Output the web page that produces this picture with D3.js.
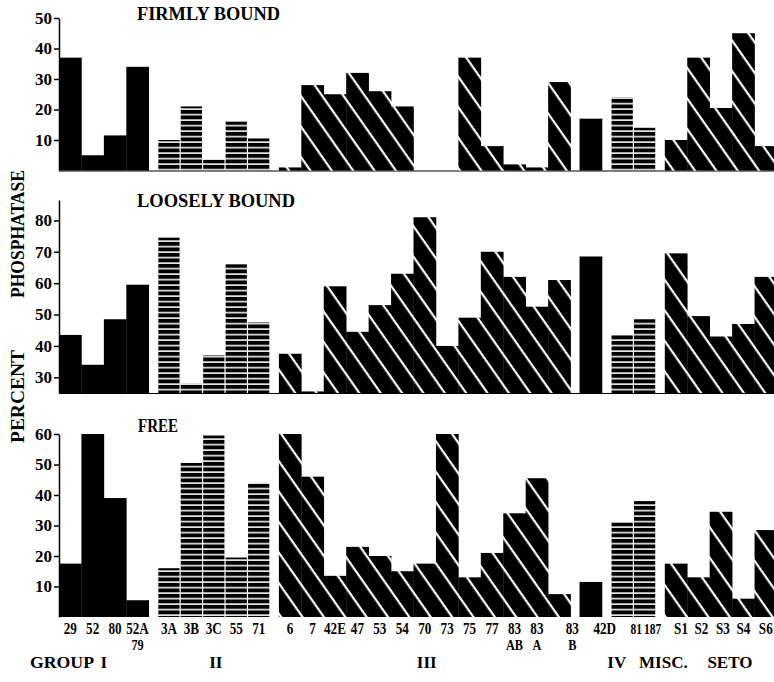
<!DOCTYPE html>
<html>
<head>
<meta charset="utf-8">
<script src="https://cdn.jsdelivr.net/npm/d3@7"></script>
<style>
  html, body { margin: 0; padding: 0; background: #fff; }
  svg text { font-family: "Liberation Serif", "Times New Roman", serif; font-weight: bold; fill: #000; }
</style>
</head>
<body>
<script>
// ---------------- DATA ----------------
const categories = ["29","52","80","52A","3A","3B","3C","55","71",
  "6","7","42E","47","53","54","70","73","75","77","83","83","83",
  "42D","81","187","S1","S2","S3","S4","S6"];
const subLabels = ["","","","79","","","","","",
  "","","","","","","","","","","AB","A","B",
  "","","","","","","",""];
const barGroup = ["I","I","I","I","II","II","II","II","II",
  "III","III","III","III","III","III","III","III","III","III","III","III","III",
  "IV","MISC.","MISC.","SETO","SETO","SETO","SETO","SETO"];
const groupNames = ["I","II","III","IV","MISC.","SETO"];

const firmlyBound = [37,5,11.5,34, 10,21,3.5,16,10.5,
  1,28,25,32,26,21,0,0,37,8,2,1,29,
  17, 24,14, 10,37,20.5,45,8];
const looselyBound = [43.5,34,48.5,59.5, 74.5,28,37,66,47.5,
  37.5,25.5,59,44.5,53,63,81,40,49,70,62,52.5,61,
  68.5, 43.5,48.5, 69.5,49.5,43,47,62];
const freeEnzyme = [17.5,60,39,5.5, 16,50.5,59.5,19.5,44,
  60,46,13.5,23,20,15,17.5,60,13,21,34,45.5,7.5,
  11.5, 31,38, 17.5,13,34.5,6,28.5];

const firmlyTicks = [10,20,30,40,50];
const looselyTicks = [30,40,50,60,70,80];
const freeTicks = [10,20,30,40,50,60];

// group -> fill style
const groupFill = {"I":"solid","II":"hstripe","III":"diag","IV":"solid","MISC.":"hstripe","SETO":"diag"};

// ---------------- LAYOUT ----------------
const W = 774, H = 682;
// small typographic nudges of the printed labels (layout only)
const groupLabelShift = {"I":0,"II":2,"III":2,"IV":26,"MISC.":30,"SETO":9};
const catLabelShift = {21: 13, 22: 14, 23: 14, 24: 8, 25: 5, 26: 3, 27: 2};

const svg = d3.select("body").append("svg").attr("width", W).attr("height", H);

const defs = svg.append("defs");
const hp = defs.append("pattern").attr("id","hstripe").attr("patternUnits","userSpaceOnUse")
  .attr("width",10).attr("height",5.5);
hp.append("rect").attr("width",10).attr("height",5.5).attr("fill","#000");
hp.append("rect").attr("y",3.9).attr("width",10).attr("height",1.5).attr("fill","#fff");

const dp = defs.append("pattern").attr("id","diag").attr("patternUnits","userSpaceOnUse")
  .attr("width",10).attr("height",17.5).attr("patternTransform","rotate(55)");
dp.append("rect").attr("width",10).attr("height",17.5).attr("fill","#000");
dp.append("rect").attr("y",0).attr("width",10).attr("height",2.2).attr("fill","#fff");

const fillFor = g => groupFill[g] === "solid" ? "#000" : `url(#${groupFill[g]})`;

const gapUnits = 0.4;
const unitPos = categories.map((c, i) => i + groupNames.indexOf(barGroup[i]) * gapUnits);
const x = d3.scaleLinear()
  .domain([0, categories.length + (groupNames.length - 1) * gapUnits])
  .range([59, 777]);
const bw = x(1) - x(0);

const panels = [
  {values: firmlyBound, domain: [0, 50], range: [170.5, 18], ticks: firmlyTicks,
   title: "FIRMLY BOUND", tx: 137, ty: 20, tl: 143, baseline: true},
  {values: looselyBound, domain: [25, 86.5], range: [393, 200], ticks: looselyTicks,
   title: "LOOSELY BOUND", tx: 137, ty: 207, tl: 158, baseline: true},
  {values: freeEnzyme, domain: [0, 60], range: [617, 434], ticks: freeTicks,
   title: "FREE", tx: 138, ty: 432, tl: 40, baseline: false}
];

panels.forEach(p => {
  const y = d3.scaleLinear().domain(p.domain).range(p.range);
  const g = svg.append("g");
  const y0 = y(p.domain[0]);

  if (p.baseline) {
    g.append("line").attr("x1", 59).attr("x2", W).attr("y1", y0 + 0.5).attr("y2", y0 + 0.5)
      .attr("stroke", "#000").attr("stroke-width", 1.2);
  }

  const isH = i => groupFill[barGroup[i]] === "hstripe";
  g.selectAll("rect.bar").data(p.values).join("rect")
    .attr("class","bar")
    .attr("x", (d, i) => x(unitPos[i]) + (isH(i) ? 0.6 : 0))
    .attr("width", (d, i) => isH(i) ? bw - 1.2 : bw + 0.3)
    .attr("y", d => y(Math.max(d, p.domain[0])))
    .attr("height", d => y0 - y(Math.max(d, p.domain[0])))
    .attr("fill", (d, i) => fillFor(barGroup[i]));

  const ax = d3.axisLeft(y).tickValues(p.ticks).tickSize(5).tickSizeOuter(0).tickPadding(2)
    .tickFormat(d3.format("d"));
  const axg = svg.append("g").attr("transform", "translate(59,0)").call(ax);
  axg.select(".domain").attr("stroke-width", 1.5);
  axg.selectAll(".tick line").attr("stroke-width", 1.5);
  axg.selectAll(".tick text").style("font-size", "17px").attr("font-family", null);

  svg.append("text").attr("x", p.tx).attr("y", p.ty)
    .attr("textLength", p.tl).attr("lengthAdjust", "spacingAndGlyphs")
    .style("font-size", "19px").text(p.title);
});

// category labels (condensed type, as printed)
const labX = i => x(unitPos[i]) + bw / 2 + (catLabelShift[i] || 0);
svg.append("g").selectAll("text").data(categories).join("text")
  .attr("transform", (d, i) => `translate(${labX(i)},634) scale(0.82,1)`)
  .attr("text-anchor", "middle")
  .style("font-size", (d, i) => (i === 23 || i === 24) ? "14px" : "16px")
  .text(d => d);

svg.append("g").selectAll("text").data(subLabels).join("text")
  .attr("transform", (d, i) => `translate(${labX(i)},650) scale(0.82,1)`)
  .attr("text-anchor", "middle")
  .style("font-size", "15px")
  .text(d => d);

// group labels
groupNames.forEach(gn => {
  const idx = barGroup.map((b, i) => b === gn ? i : -1).filter(i => i >= 0);
  const cx = (x(unitPos[idx[0]]) + x(unitPos[idx[idx.length - 1]]) + bw) / 2 + groupLabelShift[gn];
  svg.append("text").attr("x", cx).attr("y", 668).attr("text-anchor", "middle")
    .style("font-size", "17px").text(gn);
});
svg.append("text").attr("x", 30).attr("y", 668).style("font-size", "17px")
  .attr("textLength", 64).attr("lengthAdjust", "spacingAndGlyphs").text("GROUP");

// y-axis title
svg.append("text").attr("transform", "translate(24,298) rotate(-90)")
  .attr("textLength", 128).attr("lengthAdjust", "spacingAndGlyphs")
  .style("font-size", "18px").text("PHOSPHATASE");
svg.append("text").attr("transform", "translate(24,443) rotate(-90)")
  .attr("textLength", 93).attr("lengthAdjust", "spacingAndGlyphs")
  .style("font-size", "18px").text("PERCENT");
</script>
</body>
</html>
